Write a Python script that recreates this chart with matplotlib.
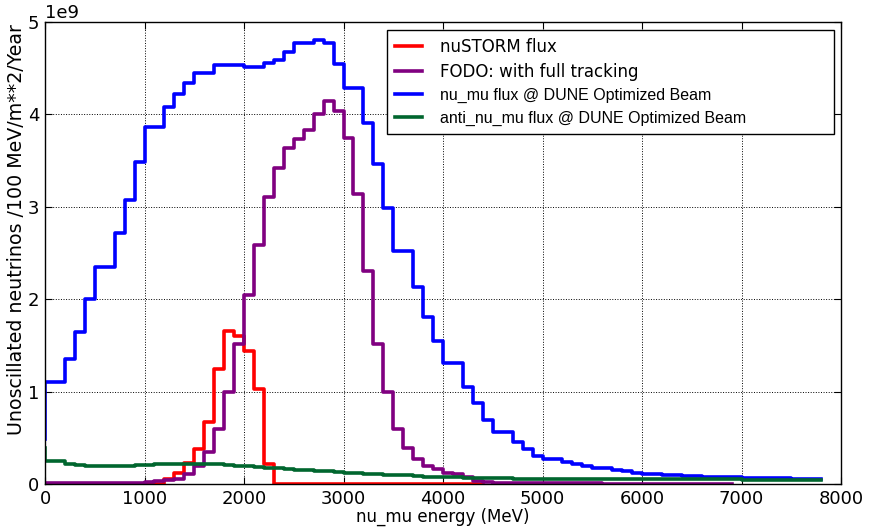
import numpy as np
import matplotlib
matplotlib.use("Agg")
import matplotlib.pyplot as plt

# Energy grid (MeV), 100 MeV bins; value i applies to (E[i-1], E[i]]
energy = np.arange(0, 7801, 100)

nu_mu_dune = [0.49,
    1.10, 1.10, 1.35, 1.65, 2.00, 2.35, 2.35, 2.72, 3.07, 3.48,
    3.86, 3.86, 4.08, 4.22, 4.34, 4.45, 4.45, 4.54, 4.54, 4.53,
    4.51, 4.51, 4.56, 4.59, 4.68, 4.77, 4.77, 4.81, 4.77, 4.55,
    4.29, 4.29, 3.91, 3.46, 2.99, 2.52, 2.52, 2.13, 1.81, 1.55,
    1.31, 1.31, 1.05, 0.88, 0.69, 0.56, 0.56, 0.45, 0.375, 0.30,
    0.27, 0.27, 0.235, 0.215, 0.195, 0.17, 0.17, 0.15, 0.14, 0.12,
    0.11, 0.11, 0.10, 0.095, 0.087, 0.085, 0.08, 0.078, 0.075, 0.072,
    0.068, 0.066, 0.064, 0.062, 0.06, 0.058, 0.056, 0.052]

anti_nu_mu_dune = [0.39,
    0.25, 0.25, 0.22, 0.205, 0.20, 0.20, 0.20, 0.20, 0.20, 0.205,
    0.21, 0.215, 0.215, 0.215, 0.215, 0.215, 0.215, 0.215, 0.21, 0.195,
    0.19, 0.185, 0.175, 0.17, 0.165, 0.155, 0.15, 0.145, 0.14, 0.125,
    0.12, 0.115, 0.11, 0.105, 0.10, 0.097, 0.095, 0.085, 0.08, 0.078,
    0.075, 0.072, 0.068, 0.065, 0.063, 0.06, 0.06, 0.058, 0.057, 0.056,
    0.055, 0.055, 0.055, 0.055, 0.055, 0.055, 0.055, 0.055, 0.054, 0.054,
    0.054, 0.053, 0.053, 0.053, 0.052, 0.052, 0.052, 0.051, 0.051, 0.05,
    0.045, 0.045, 0.045, 0.044, 0.044, 0.044, 0.043, 0.043]

nustorm = [0.0,
    0, 0, 0, 0, 0, 0, 0, 0, 0, 0,
    0, 0, 0.054, 0.115, 0.23, 0.375, 0.67, 1.25, 1.66, 1.60,
    1.44, 1.03, 0.22, 0, 0, 0, 0, 0, 0, 0,
    0, 0, 0, 0, 0, 0, 0, 0, 0, 0,
    0, 0, 0, 0]

fodo = [0.0,
    0.015, 0.015, 0.015, 0.015, 0.015, 0.015, 0.015, 0.015, 0.015, 0.015,
    0.02, 0.03, 0.04, 0.054, 0.108, 0.19, 0.35, 0.60, 1.00, 1.515,
    2.045, 2.59, 3.11, 3.42, 3.64, 3.73, 3.83, 4.00, 4.14, 4.04,
    3.75, 3.14, 2.31, 1.515, 1.00, 0.59, 0.39, 0.27, 0.19, 0.16,
    0.12, 0.11, 0.075, 0.03, 0.02, 0.015, 0.012, 0.01, 0.01, 0.008,
    0.008, 0.007, 0.007, 0.006, 0.006, 0.006, 0.005, 0.005, 0.005, 0.005,
    0.005, 0.005, 0.005, 0.005, 0.005, 0.005, 0.005, 0.005, 0.005]

scale = 1e9

W, H = 871, 530
fig = plt.figure(figsize=(W/100, H/100), dpi=100)
x0, x1, y0, y1 = 45, 841, 22, 484
ax = fig.add_axes([x0/W, 1 - y1/H, (x1-x0)/W, (y1-y0)/H])

lw = 2.6
ax.step(energy[:len(nustorm)], np.array(nustorm)*scale, where='pre', color='#ff0000', lw=lw, label='nuSTORM flux')
ax.step(energy[:len(fodo)], np.array(fodo)*scale, where='pre', color='#800080', lw=lw, label='FODO: with full tracking')
ax.step(energy, np.array(nu_mu_dune)*scale, where='pre', color='#0000ff', lw=lw, label='nu_mu flux @ DUNE Optimized Beam')
ax.step(energy, np.array(anti_nu_mu_dune)*scale, where='pre', color='#00662e', lw=lw, label='anti_nu_mu flux @ DUNE Optimized Beam')

ax.set_xlim(0, 8000)
ax.set_ylim(0, 5e9)
ax.set_xticks(np.arange(0, 8001, 1000))
ax.set_yticks(np.arange(0, 5.01e9, 1e9))
ax.grid(True, color='k', linestyle=':', linewidth=0.7)
ax.tick_params(direction='in', top=True, right=True, labelsize=13, length=5, width=0.8, pad=4)
ax.yaxis.get_offset_text().set_fontsize(13)
for s in ax.spines.values():
    s.set_linewidth(1.0)

ax.set_xlabel('nu_mu energy (MeV)', fontsize=12, labelpad=0)
ax.set_ylabel('Unoscillated neutrinos /100 MeV/m**2/Year', fontsize=13.7)
ax.yaxis.set_label_coords((26 - x0) / (x1 - x0), (y1 - 229.5) / (y1 - y0))

# legend box (pixels): left 387, right 834, top 30
lx0 = (387 - x0) / (x1 - x0)
lx1 = (834 - x0) / (x1 - x0)
ly1 = (y1 - 30) / (y1 - y0)
leg = ax.legend(loc='upper left', bbox_to_anchor=(lx0, 0, lx1 - lx0, ly1), mode='expand',
                fontsize=12, frameon=True, fancybox=False,
                edgecolor='k', framealpha=1, handlelength=1.6, handletextpad=1.1,
                labelspacing=0.42, borderpad=0.5, borderaxespad=0.0)
leg.get_frame().set_linewidth(1.0)
for t in leg.get_texts()[2:]:
    t.set_fontfamily('Liberation Sans')
    t.set_fontsize(11.5)

fig.savefig('out.png', dpi=100)
